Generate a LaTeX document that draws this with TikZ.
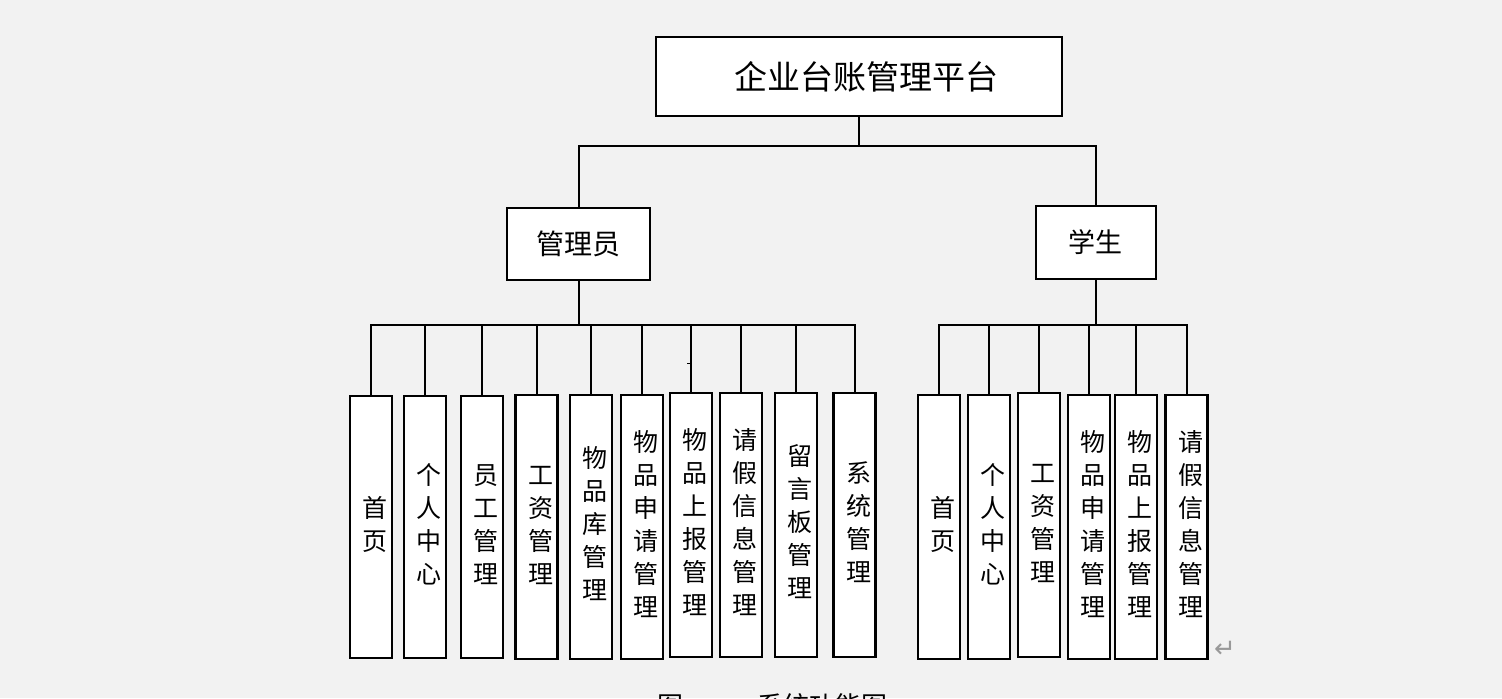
\documentclass[tikz,border=0pt]{standalone}
\usepackage{fontspec}
\newfontfamily\cjk{Noto Sans CJK SC}
\newfontfamily\dejavu{DejaVu Sans}
\definecolor{bg}{HTML}{F2F2F2}
\newcommand{\vtxt}[1]{\begin{tabular}{@{\hspace{4pt}}c@{}}#1\end{tabular}}
\tikzset{
  box/.style={draw=black, line width=1.1pt, fill=white, inner sep=0pt},
  conn/.style={draw=black, line width=1pt},
  leaf/.style={box, minimum width=21pt, minimum height=132pt, font=\cjk\fontsize{12.5}{16.5}\selectfont},
}
\begin{document}
\begin{tikzpicture}[x=0.5pt, y=-0.5pt]
\useasboundingbox[fill=bg] (0,0) rectangle (1502,698);

% top level
\node[box, minimum width=203pt, minimum height=39.5pt, font=\cjk\fontsize{16.5}{20}\selectfont] (top) at (859,76.5) {\hspace*{7pt}企业台账管理平台};
\node[box, minimum width=71.5pt, minimum height=36pt, font=\cjk\fontsize{14}{16}\selectfont] (admin) at (578.5,244) {管理员};
\node[box, minimum width=60pt, minimum height=36.5pt, font=\cjk\fontsize{13.5}{16}\selectfont] (stud) at (1095.7,242.5) {学生};

% admin leaves
\node[leaf, minimum height=131pt] (a1) at (371,527) {\vtxt{首\\页}};
\node[leaf, minimum height=131pt] (a2) at (425,527) {\vtxt{个\\人\\中\\心}};
\node[leaf, minimum height=131pt] (a3) at (482,527) {\vtxt{员\\工\\管\\理}};
\node[leaf] (a4) at (536.5,527) {\vtxt{工\\资\\管\\理}};
\node[leaf] (a5) at (591,527) {\vtxt{物\\品\\库\\管\\理}};
\node[leaf] (a6) at (642,527) {\vtxt{物\\品\\申\\请\\管\\理}};
\node[leaf] (a7) at (691,525) {\vtxt{物\\品\\上\\报\\管\\理}};
\node[leaf] (a8) at (741,525) {\vtxt{请\\假\\信\\息\\管\\理}};
\node[leaf] (a9) at (796,525) {\vtxt{留\\言\\板\\管\\理}};
\node[leaf] (a10) at (854.5,525) {\vtxt{系\\统\\管\\理}};

% student leaves
\node[leaf] (s1) at (939,527) {\vtxt{首\\页}};
\node[leaf] (s2) at (989,527) {\vtxt{个\\人\\中\\心}};
\node[leaf] (s3) at (1039,525) {\vtxt{工\\资\\管\\理}};
\node[leaf] (s4) at (1089,527) {\vtxt{物\\品\\申\\请\\管\\理}};
\node[leaf] (s5) at (1136,527) {\vtxt{物\\品\\上\\报\\管\\理}};
\node[leaf] (s6) at (1186.5,527) {\vtxt{请\\假\\信\\息\\管\\理}};

% connectors
\coordinate (j0) at (859,146);
\draw[conn] (top.south) -- (j0);
\draw[conn] (admin.north) |- (j0) -| (stud.north);

\coordinate (ja) at (578.5,324.5);
\draw[conn] (admin.south) -- (ja);
\foreach \n in {a1,a2,a3,a4,a5,a6,a7,a8,a9,a10}
  \draw[conn] (\n.north) |- (ja);

\coordinate (js) at (1095.7,324.5);
\draw[conn] (stud.south) -- (js);
\foreach \n in {s1,s2,s3,s4,s5,s6}
  \draw[conn] (\n.north) |- (js);

% small stray tick
\draw[line width=0.7pt] (687,363.5) -- (690.5,363.5);

% paragraph mark
\node[font=\dejavu\fontsize{13}{13}\selectfont, text=black!40, inner sep=0pt] (ret) at (1225,649) {↵};

% caption (cut off at the bottom edge, as in the reference)
\node[anchor=north, inner sep=0pt, font=\cjk\fontsize{13}{13}\selectfont] (cap) at (772,693.5) {图\hspace{37pt}系统功能图};
\end{tikzpicture}
\end{document}
